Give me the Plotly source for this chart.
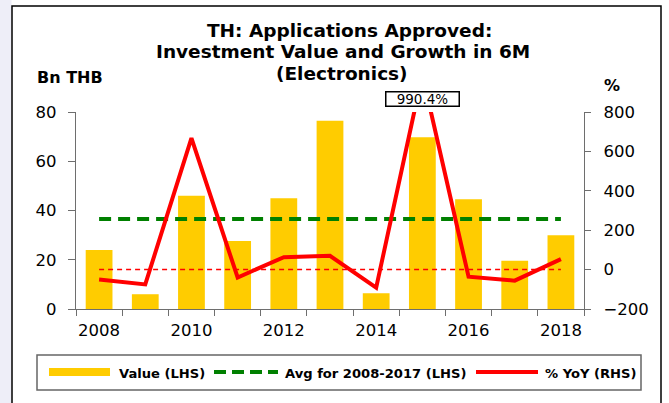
import plotly.graph_objects as go

# ---- data ----
years = [2008, 2009, 2010, 2011, 2012, 2013, 2014, 2015, 2016, 2017, 2018]
value_bn_thb = [24.0, 6.0, 46.0, 27.6, 45.0, 76.4, 6.4, 69.7, 44.6, 19.6, 30.0]
avg_2008_2017 = [36.5, 36.5, 36.5, 36.5, 36.5, 36.5, 36.5, 36.5, 36.5, 36.5, 36.5]
yoy_pct = [-50, -75, 667, -40, 63, 70, -92, 990.4, -36, -56, 53]
zero_ref = [0, 0, 0, 0, 0, 0, 0, 0, 0, 0, 0]
x_tick_labels = ["2008", "2010", "2012", "2014", "2016", "2018"]
x_tick_vals = [2008, 2010, 2012, 2014, 2016, 2018]
x_boundaries = [2007.5, 2008.5, 2009.5, 2010.5, 2011.5, 2012.5, 2013.5,
                2014.5, 2015.5, 2016.5, 2017.5, 2018.5]

title_lines = ["TH: Applications Approved:", "Investment Value and Growth in 6M", "(Electronics)"]
legend_labels = ["Value (LHS)", "Avg for 2008-2017 (LHS)", "% YoY (RHS)"]

FONT = "DejaVu Sans"
W, H = 669, 403
L, R, T, B = 76, 85, 112, 94
PW, PH = W - L - R, H - T - B


def px(p):
    return (p - L) / PW


def py(p):
    return (H - B - p) / PH


fig = go.Figure()
fig.add_trace(go.Bar(x=years, y=value_bn_thb, marker=dict(color="#FFCC00", line=dict(width=0)),
                     width=0.58, showlegend=False, name=legend_labels[0]))
fig.add_trace(go.Scatter(x=years, y=avg_2008_2017, mode="lines", showlegend=False,
                         line=dict(color="#008000", width=4, dash="12px,7px"), name=legend_labels[1]))
fig.add_trace(go.Scatter(x=years, y=zero_ref, yaxis="y2", mode="lines", showlegend=False,
                         line=dict(color="#FF0000", width=1.5, dash="5px,4px"), hoverinfo="skip"))
fig.add_trace(go.Scatter(x=years, y=yoy_pct, yaxis="y2", mode="lines", showlegend=False,
                         line=dict(color="#FF0000", width=4), name=legend_labels[2]))

axis_col = "#6e6e6e"
tick_font = dict(family=FONT, size=16.5, color="#000000")

fig.update_layout(
    width=W, height=H, autosize=False,
    margin=dict(l=L, r=R, t=T, b=B, pad=0),
    paper_bgcolor="white", plot_bgcolor="white",
    showlegend=False,
    font=dict(family=FONT, color="#000000"),
    xaxis=dict(range=[2007.5, 2018.5], tickmode="array", tickvals=x_tick_vals, ticktext=x_tick_labels,
               ticks="", showgrid=False, zeroline=False, showline=True, linecolor=axis_col, linewidth=1.2,
               tickfont=tick_font, ticklabelstandoff=6,
               minor=dict(tickmode="array", tickvals=x_boundaries, ticks="outside", ticklen=6,
                          tickcolor=axis_col, tickwidth=1.2, showgrid=False)),
    yaxis=dict(range=[0, 80], tickmode="linear", tick0=0, dtick=20, ticks="outside", ticklen=7,
               tickcolor=axis_col, tickwidth=1.2, showgrid=False, zeroline=False, showline=True,
               linecolor=axis_col, linewidth=1.2, tickfont=tick_font, ticklabelstandoff=8),
    yaxis2=dict(range=[-200, 800], tickmode="linear", tick0=-200, dtick=200, overlaying="y", side="right",
                ticks="outside", ticklen=6, tickcolor=axis_col, tickwidth=1.2, showgrid=False, zeroline=False,
                showline=True, linecolor=axis_col, linewidth=1.2, tickfont=tick_font, ticklabelstandoff=9),
)

shapes = []
# lavender strip on the left and outer chart border
shapes.append(dict(type="rect", xref="paper", yref="paper", x0=px(0), x1=px(11.5), y0=py(0), y1=py(H),
                   fillcolor="#EEEEF8", line=dict(width=0), layer="below"))
shapes.append(dict(type="rect", xref="paper", yref="paper", x0=px(12), x1=px(661), y0=py(6), y1=py(H + 5),
                   fillcolor="rgba(0,0,0,0)", line=dict(color="#000000", width=1.5)))
# legend box
shapes.append(dict(type="rect", xref="paper", yref="paper", x0=px(37), x1=px(641), y0=py(355), y1=py(390),
                   fillcolor="white", line=dict(color="#666666", width=1.5)))
# legend swatches
shapes.append(dict(type="line", xref="paper", yref="paper", x0=px(49), x1=px(110), y0=py(372), y1=py(372),
                   line=dict(color="#FFCC00", width=8)))
shapes.append(dict(type="line", xref="paper", yref="paper", x0=px(214), x1=px(278), y0=py(372), y1=py(372),
                   line=dict(color="#008000", width=4, dash="12px,6px")))
shapes.append(dict(type="line", xref="paper", yref="paper", x0=px(476), x1=px(538), y0=py(372), y1=py(372),
                   line=dict(color="#FF0000", width=4)))
fig.update_layout(shapes=shapes)

ann = []
title_centers = [(349, 30), (343, 52), (342, 73)]
for txt, (cx, cy) in zip(title_lines, title_centers):
    ann.append(dict(text="<b>%s</b>" % txt, xref="paper", yref="paper", x=px(cx), y=py(cy),
                    xanchor="center", yanchor="middle", showarrow=False,
                    font=dict(family=FONT, size=18.5, color="#000000")))
ann.append(dict(text="<b>Bn THB</b>", xref="paper", yref="paper", x=px(35), y=py(78),
                xanchor="left", yanchor="middle", showarrow=False, font=dict(family=FONT, size=16)))
ann.append(dict(text="<b>%</b>", xref="paper", yref="paper", x=px(612), y=py(85.5),
                xanchor="center", yanchor="middle", showarrow=False, font=dict(family=FONT, size=16)))
legend_pos = [117, 283, 543]
for txt, lx in zip(legend_labels, legend_pos):
    ann.append(dict(text="<b>%s</b>" % txt, xref="paper", yref="paper", x=px(lx), y=py(373),
                    xanchor="left", yanchor="middle", showarrow=False, font=dict(family=FONT, size=13.1)))
peak_idx = yoy_pct.index(max(yoy_pct))
ann.append(dict(text="%.1f%%" % yoy_pct[peak_idx], x=years[peak_idx], xref="x", yref="paper", y=py(99),
                xanchor="center", yanchor="middle", showarrow=False, bgcolor="white",
                bordercolor="#000000", borderwidth=1.5, borderpad=0, width=72, height=13,
                font=dict(family=FONT, size=13.5, color="#000000")))
fig.update_layout(annotations=ann)

fig.write_html("out.html", config={"displayModeBar": False},
               post_script="document.body.style.margin='0';document.body.style.overflow='hidden';")
